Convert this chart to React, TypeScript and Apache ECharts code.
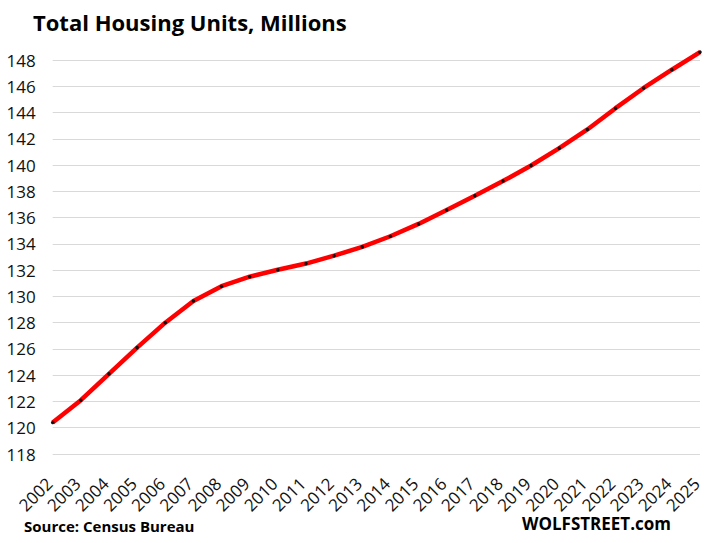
import React, { useEffect, useRef } from "react";
import * as echarts from "echarts";

const years = [
  "2002", "2003", "2004", "2005", "2006", "2007", "2008", "2009", "2010", "2011", "2012", "2013",
  "2014", "2015", "2016", "2017", "2018", "2019", "2020", "2021", "2022", "2023", "2024", "2025",
];
const housingUnits = [
  120.4, 122.1, 124.1, 126.1, 128.0, 129.65, 130.78, 131.5, 132.03, 132.5, 133.1, 133.77,
  134.58, 135.52, 136.58, 137.67, 138.78, 139.97, 141.29, 142.71, 144.33, 145.87, 147.26, 148.6,
];
const titleText = "Total Housing Units, Millions";
const sourceText = "Source: Census Bureau";
const brandText = "WOLFSTREET.com";

const FONT = "'Open Sans', 'Noto Sans', sans-serif";

export default function App() {
  const ref = useRef<HTMLDivElement>(null);
  useEffect(() => {
    if (!ref.current) return;
    const chart = echarts.init(ref.current, null, { renderer: "svg" });
    chart.setOption({
      animation: false,
      backgroundColor: "#fff",
      title: {
        text: titleText,
        left: 28,
        top: 6,
        textStyle: { fontFamily: FONT, fontSize: 22, fontWeight: "bold", color: "#000" },
      },
      graphic: [
        {
          type: "text",
          left: 24,
          top: 518,
          style: { text: sourceText, fontFamily: FONT, fontSize: 15, fontWeight: "bold", fill: "#000" },
        },
        {
          type: "text",
          left: 522,
          top: 515,
          style: { text: brandText, fontFamily: FONT, fontSize: 17, fontWeight: "bold", fill: "#000" },
        },
      ],
      grid: { left: 52.7, right: 16, top: 60, bottom: 89, containLabel: false },
      xAxis: {
        type: "category",
        data: years,
        boundaryGap: false,
        axisLine: { show: false },
        axisTick: { show: false },
        axisLabel: {
          rotate: 45,
          margin: 23,
          padding: [0, 5, 0, 0],
          interval: 0,
          fontFamily: FONT,
          fontSize: 17,
          color: "#111",
        },
        splitLine: { show: false },
      },
      yAxis: {
        type: "value",
        min: 118,
        max: 148,
        interval: 2,
        axisLine: { show: false },
        axisTick: { show: false },
        axisLabel: { margin: 17, fontFamily: FONT, fontSize: 17, color: "#111" },
        splitLine: { lineStyle: { color: "#d9d9d9", width: 1 } },
      },
      series: [
        {
          type: "line",
          data: housingUnits,
          clip: false,
          lineStyle: { color: "#ff0000", width: 4.5 },
          symbol: "circle",
          symbolSize: 3.5,
          showSymbol: true,
          itemStyle: { color: "#111", borderWidth: 0 },
          z: 3,
        },
      ],
    });
    return () => chart.dispose();
  }, []);
  return (
    <div
      ref={ref}
      style={{ position: "fixed", left: 0, top: 0, width: 716, height: 543 }}
    />
  );
}
